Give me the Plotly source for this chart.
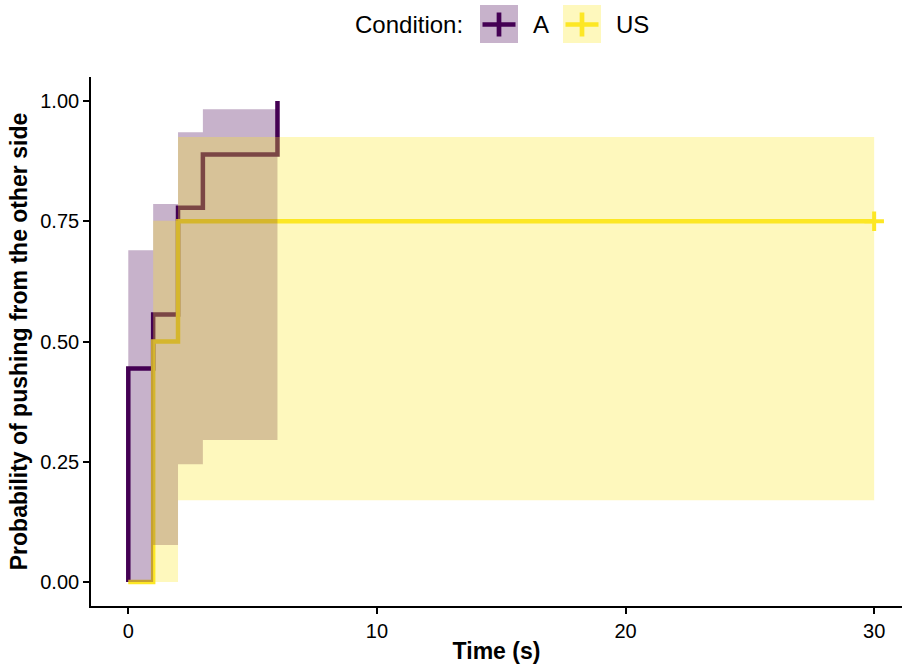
import plotly.graph_objects as go

# Cumulative event probability (1 - survival) per condition
a_time = [0, 0, 1, 2, 3, 6]
a_prob = [0.0, 0.444, 0.556, 0.778, 0.889, 1.0]
us_time = [0, 1, 2, 30]
us_prob = [0.0, 0.5, 0.75, 0.75]

# Censored observations
us_censor_time = [30]
us_censor_prob = [0.75]

# Confidence bands (step functions, last value repeated to close the final step)
a_band_time = [0, 1, 2, 3, 6]
a_band_lower = [0.0, 0.077, 0.245, 0.295, 0.295]
a_band_upper = [0.69, 0.786, 0.935, 0.983, 0.983]
us_band_time = [1, 2, 30]
us_band_lower = [0.0, 0.170, 0.170]
us_band_upper = [0.751, 0.925, 0.925]

x_ticks = [0, 10, 20, 30]
y_ticks = [0.0, 0.25, 0.5, 0.75, 1.0]
y_tick_text = ["0.00", "0.25", "0.50", "0.75", "1.00"]

PURPLE = "#440154"
YELLOW = "#FDE725"
PURPLE_FILL = "rgba(68,1,84,0.3)"
YELLOW_FILL = "rgba(253,231,37,0.3)"
FONT = "Liberation Sans, Arial, Helvetica, sans-serif"

W, H = 902, 664
M_L, M_R, M_T, M_B = 91, 0, 77, 58


def step_points(xs, ys):
    px, py = [], []
    for i, (x, y) in enumerate(zip(xs, ys)):
        if i > 0:
            px.append(x)
            py.append(ys[i - 1])
        px.append(x)
        py.append(y)
    return px, py


def band_polygon(xs, lower, upper):
    ux, uy = step_points(xs, upper)
    lx, ly = step_points(xs, lower)
    return ux + lx[::-1] + [ux[0]], uy + ly[::-1] + [uy[0]]


fig = go.Figure()

# Step curves
fig.add_trace(go.Scatter(x=a_time, y=a_prob, mode="lines", line=dict(color=PURPLE, width=4.5, shape="hv"),
                         showlegend=False, hoverinfo="skip"))
fig.add_trace(go.Scatter(x=us_time, y=us_prob, mode="lines", line=dict(color=YELLOW, width=4.5, shape="hv"),
                         showlegend=False, hoverinfo="skip"))
fig.add_trace(go.Scatter(x=us_censor_time, y=us_censor_prob, mode="markers",
                         marker=dict(symbol="cross-thin", size=14, line=dict(color=YELLOW, width=4)),
                         showlegend=False, hoverinfo="skip"))

# Confidence bands drawn on top of the curves
bx, by = band_polygon(a_band_time, a_band_lower, a_band_upper)
fig.add_trace(go.Scatter(x=bx, y=by, mode="lines", fill="toself", fillcolor=PURPLE_FILL,
                         line=dict(width=0, color="rgba(0,0,0,0)"), showlegend=False, hoverinfo="skip"))
bx, by = band_polygon(us_band_time, us_band_lower, us_band_upper)
fig.add_trace(go.Scatter(x=bx, y=by, mode="lines", fill="toself", fillcolor=YELLOW_FILL,
                         line=dict(width=0, color="rgba(0,0,0,0)"), showlegend=False, hoverinfo="skip"))

# Legend drawn in pixel space above the panel
plot_w = W - M_L - M_R
plot_h = H - M_T - M_B


def fx(p):
    return (p - M_L) / plot_w


def fy(p):
    return (H - M_B - p) / plot_h


shapes = []
annotations = []
legend_items = [("A", PURPLE, PURPLE_FILL, 480, 531), ("US", YELLOW, YELLOW_FILL, 563, 614)]
for label, col, fill, kx, tx in legend_items:
    cx = kx + 19
    cy = 24.5
    shapes.append(dict(type="rect", xref="paper", yref="paper", x0=fx(kx), x1=fx(kx + 38),
                       y0=fy(43), y1=fy(5), fillcolor=fill, line=dict(width=0), layer="above"))
    shapes.append(dict(type="line", xref="paper", yref="paper", x0=fx(cx - 16.5), x1=fx(cx + 16.5),
                       y0=fy(cy), y1=fy(cy), line=dict(color=col, width=4.7), layer="above"))
    shapes.append(dict(type="line", xref="paper", yref="paper", x0=fx(cx), x1=fx(cx),
                       y0=fy(cy - 12), y1=fy(cy + 12), line=dict(color=col, width=4.7), layer="above"))
    annotations.append(dict(text=label, xref="paper", yref="paper", x=fx(tx), y=fy(cy),
                            xanchor="left", yanchor="middle", showarrow=False,
                            font=dict(family=FONT, size=24, color="black")))
annotations.append(dict(text="Condition:", xref="paper", yref="paper", x=fx(465), y=fy(24.5),
                        xanchor="right", yanchor="middle", showarrow=False,
                        font=dict(family=FONT, size=24, color="black")))

axis_common = dict(showline=True, linecolor="black", linewidth=1.6, ticks="outside", ticklen=6,
                   tickwidth=1.5, tickcolor="black", showgrid=False, zeroline=False,
                   tickfont=dict(family=FONT, size=20, color="black"))

fig.update_layout(
    width=W, height=H,
    margin=dict(l=M_L, r=M_R, t=M_T, b=M_B, pad=0),
    paper_bgcolor="white", plot_bgcolor="white",
    shapes=shapes, annotations=annotations,
    xaxis=dict(range=[-1.5, 31.12], tickvals=x_ticks, automargin=False,
               title=dict(text="<b>Time (s)</b>", font=dict(family=FONT, size=23, color="black"), standoff=6),
               **axis_common),
    yaxis=dict(range=[-0.05, 1.05], tickvals=y_ticks, ticktext=y_tick_text, automargin=False,
               title=dict(text="<b>Probability of pushing from the other side</b>",
                          font=dict(family=FONT, size=23, color="black"), standoff=6),
               **axis_common),
)

fig.write_html("out.html")
